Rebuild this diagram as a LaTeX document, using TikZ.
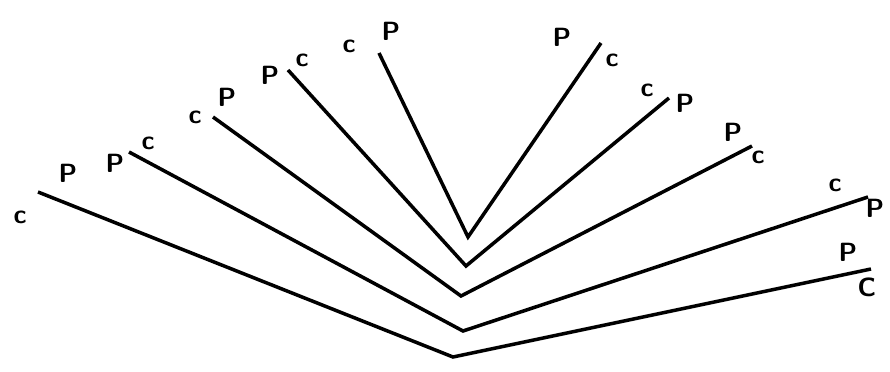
\documentclass[tikz,border=0pt]{standalone}
\usetikzlibrary{positioning}
\begin{document}
\begin{tikzpicture}[x=0.02cm, y=-0.02cm,
  arm/.style={line width=2pt, line join=miter},
  tag/.style={font=\sffamily\bfseries\fontsize{15}{15}\selectfont, inner sep=0pt}
]
  \useasboundingbox (0,0) rectangle (890,372);
  % vertices and arm ends
  \coordinate (v1) at (468,237); \coordinate (a1) at (379,53);  \coordinate (b1) at (601,43);
  \coordinate (v2) at (466,266); \coordinate (a2) at (288,70);  \coordinate (b2) at (669,98);
  \coordinate (v3) at (461,296); \coordinate (a3) at (213,117); \coordinate (b3) at (752,146);
  \coordinate (v4) at (463,331); \coordinate (a4) at (129,152); \coordinate (b4) at (868,197);
  \coordinate (v5) at (453,357); \coordinate (a5) at (38,192);  \coordinate (b5) at (871,269);
  \draw[arm] (a1) -- (v1) -- (b1);
  \draw[arm] (a2) -- (v2) -- (b2);
  \draw[arm] (a3) -- (v3) -- (b3);
  \draw[arm] (a4) -- (v4) -- (b4);
  \draw[arm] (a5) -- (v5) -- (b5);
  % labels
  \node[tag] (c1a) at (349,46) {c};  \node[tag] (p1a) at (391,31) {P};
  \node[tag] (p1b) at (562,37) {P};  \node[tag] (c1b) at (612,60) {c};
  \node[tag] (p2a) at (270,75) {P};  \node[tag] (c2a) at (302,60) {c};
  \node[tag] (c2b) at (647,90) {c};  \node[tag] (p2b) at (685,103) {P};
  \node[tag] (c3a) at (195,117) {c}; \node[tag] (p3a) at (227,97) {P};
  \node[tag] (p3b) at (733,132) {P}; \node[tag] (c3b) at (758,157) {c};
  \node[tag] (p4a) at (115,163) {P}; \node[tag] (c4a) at (148,143) {c};
  \node[tag] (c4b) at (835,185) {c}; \node[tag] (p4b) at (875,208) {P};
  \node[tag] (c5a) at (20,217) {c};  \node[tag] (p5a) at (68,173) {P};
  \node[tag] (p5b) at (848,252) {P}; \node[tag] (c5b) at (867,287) {C};
\end{tikzpicture}
\end{document}
